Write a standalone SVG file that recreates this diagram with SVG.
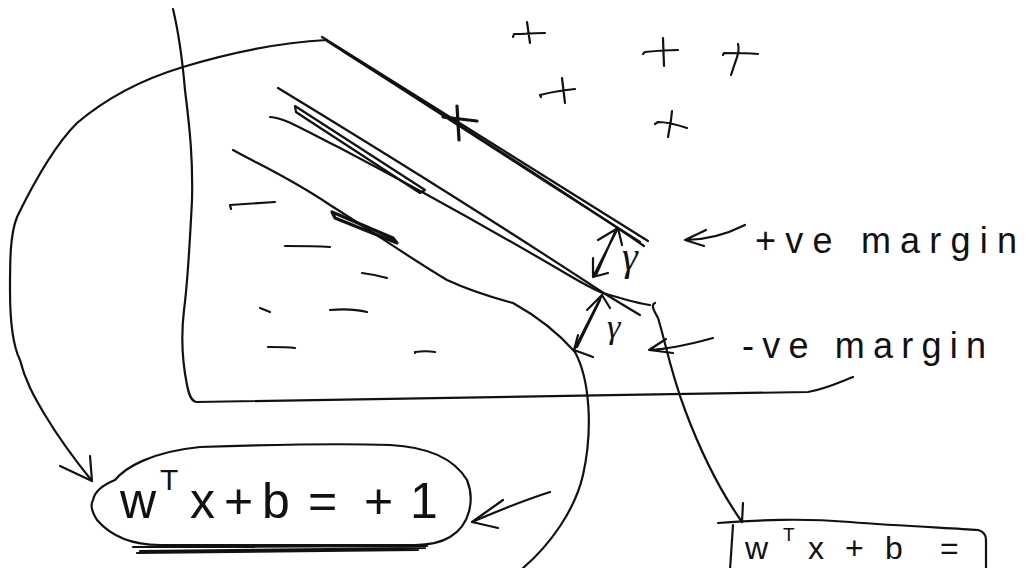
<svg xmlns="http://www.w3.org/2000/svg" width="1027" height="568" viewBox="0 0 1027 568">
<style>
.s{fill:none;stroke:#111;stroke-width:2.2;stroke-linecap:round;stroke-linejoin:round}
.t{stroke-width:3.2}
.hw{font-family:"Liberation Sans",Arial,sans-serif;fill:#111}
.gm{font-family:"Liberation Serif","Times New Roman",serif;font-style:italic;fill:#111}
</style>
<rect width="1027" height="568" fill="#fff"/>
<g id="plot">
  <path class="s" d="M173,9 C178,30 182,55 185,90 C190,130 193,160 192,200 C190,240 188,280 184,310 C181,335 182,360 187,385 C189,395 191,401 196,402 C350,400 600,395 808,392 C825,389 840,382 853,377"/>
  <g id="margin-plus">
    <path class="s" d="M322,37 C400,85 520,162 648,241"/>
    <path class="s" d="M327,41 C420,100 540,175 644,246"/>
    <path class="s" d="M343,51 C430,108 540,178 640,242"/>
    <path class="s t" d="M457,106 L459,140 M443,117 L477,121"/>
  </g>
  <g id="boundary">
    <path class="s" d="M278,88 C380,150 500,225 602,292 C615,300 628,308 640,315"/>
    <path class="s" d="M270,117 C285,118 300,128 340,148 C420,190 500,235 560,270 C580,282 595,290 603,293 C620,298 635,303 650,305"/>
    <path class="s" d="M295,106 L425,190 L420,193 L305,118 L296,112 Z"/>
  </g>
  <g id="margin-minus">
    <path class="s" d="M233,150 C260,165 290,178 330,205 C370,230 410,258 447,280 C475,293 495,298 513,303 C540,318 560,335 575,352"/>
    <path class="s t" d="M332,212 L335,218 L397,243 L393,238 Z"/>
  </g>
  <g id="points-plus">
    <path class="s" d="M513,37 L514,34 C525,34 535,33 545,33 M527,22 L530,43"/>
    <path class="s" d="M541,97 L540,95 C552,92 563,90 575,89 M562,78 L565,103"/>
    <path class="s" d="M643,54 L645,52 C655,51 667,50 678,50 M663,38 L664,66"/>
    <path class="s" d="M723,55 L724,53 C735,53 747,53 758,54 M738,44 C740,50 737,58 735,63 L731,75"/>
    <path class="s" d="M655,124 L658,122 C668,122 678,125 687,128 M672,111 L671,120 L668,137"/>
  </g>
  <g id="points-minus">
    <path class="s" d="M231,209 L230,205 C245,204 260,203 275,202"/>
    <path class="s" d="M285,246 C300,246 315,246 330,247"/>
    <path class="s" d="M362,273 C370,274 380,276 387,278"/>
    <path class="s" d="M260,308 L270,312"/>
    <path class="s" d="M330,310 C342,309 355,309 367,312"/>
    <path class="s" d="M268,347 C278,347 288,347 295,348"/>
    <path class="s" d="M415,353 L415,352 C422,351 429,351 435,352"/>
  </g>
  <g id="gamma-arrows">
    <path class="s" d="M618,228 L593,277 M615,232 L596,275 M598,240 L618,228 L622,245 M593,258 L593,277 L608,273"/>
    <path class="s" d="M602,295 L574,350 M600,300 L577,347 M587,310 L602,295 L610,308 M578,335 L574,350 L593,357"/>
  </g>
</g>
<g id="labels">
  <text class="gm" x="622" y="270" font-size="40">γ</text>
  <text class="gm" x="607" y="338" font-size="34">γ</text>
  <text class="hw" x="755" y="253" font-size="36" textLength="262" lengthAdjust="spacing">+ve margin</text>
  <text class="hw" x="742" y="358" font-size="36" textLength="244" lengthAdjust="spacing">-ve margin</text>
</g>
<g id="eq-plus">
  <path class="s" d="M93,500 C95,490 105,484 115,480 C125,468 150,452 200,447 C260,445 330,443 390,445 C430,447 455,460 467,480 C475,500 470,525 450,537 C440,543 430,545 415,545 L160,545 C130,545 110,535 97,520 C92,512 90,505 93,500 Z"/>
  <path class="s" d="M133,547 L427,546 M137,553 L418,550 M140,551 L425,548"/>
  <text class="hw" y="518" font-size="50"><tspan x="120">w</tspan><tspan x="160" y="490" font-size="30">T</tspan><tspan x="190" y="518">x</tspan><tspan x="224" y="518">+</tspan><tspan x="262" y="518">b</tspan><tspan x="308" y="518">=</tspan><tspan x="364" y="518">+</tspan><tspan x="410" y="518">1</tspan></text>
</g>
<g id="eq-minus">
  <path class="s" d="M718,523 C760,520 800,518 850,522 C900,526 950,528 978,530 Q986,532 986,540 L986,570 M733,525 L730,570"/>
  <text class="hw" y="559" font-size="32"><tspan x="745">w</tspan><tspan x="783" y="541" font-size="19">T</tspan><tspan x="808" y="559">x</tspan><tspan x="845" y="559">+</tspan><tspan x="885" y="559">b</tspan><tspan x="940" y="559">=</tspan></text>
</g>
<g id="connectors">
  <path class="s" d="M327,40 C290,42 245,48 183,67 C150,77 110,95 77,123 C55,145 35,180 17,217 C10,235 10,260 10,290 C10,330 15,350 20,360 C25,380 33,395 45,415 C60,440 75,460 92,481"/>
  <path class="s" d="M90,456 L92,481 L60,466"/>
  <path class="s" d="M575,352 C590,380 593,430 583,475 C575,510 550,545 523,568"/>
  <path class="s" d="M550,492 C525,500 500,510 472,522 M503,500 L472,522 L498,528"/>
  <path class="s" d="M655,303 C650,305 655,312 658,318 C665,340 670,370 685,410 C700,450 718,488 742,522 M743,503 L742,522"/>
  <path class="s" d="M745,225 C725,235 705,240 685,240 M706,230 L685,240 L704,246"/>
  <path class="s" d="M713,338 C695,343 672,349 649,350 M666,339 L649,350 L673,353"/>
</g>
</svg>
